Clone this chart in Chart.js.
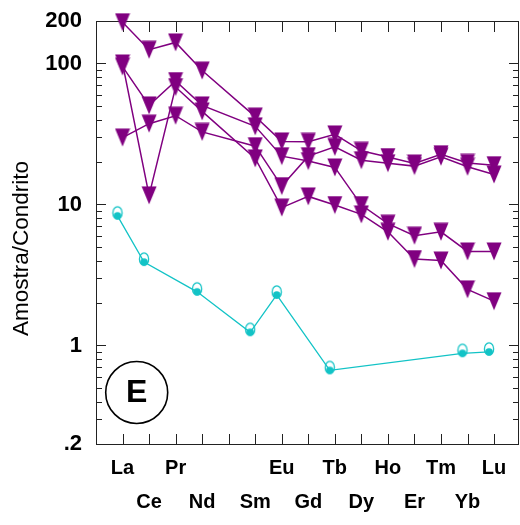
<!DOCTYPE html>
<html>
<head>
<meta charset="utf-8">
<script src="https://cdn.jsdelivr.net/npm/chart.js@4.4.1/dist/chart.umd.min.js"></script>
<style>
  html, body { margin: 0; padding: 0; background: #fff; }
</style>
</head>
<body>
<canvas id="reeChart" width="520" height="525"></canvas>
<script>
// REE elements in order (Pm has no data and no label)
const elements = ['La', 'Ce', 'Pr', 'Nd', 'Pm', 'Sm', 'Eu', 'Gd', 'Tb', 'Dy', 'Ho', 'Er', 'Tm', 'Yb', 'Lu'];
const hiddenElements = ['Pm'];

// chondrite-normalised values
const sampleA = [196, 125, 141, 89, null, 42, 28, 27.8, 31.4, 24, 21.7, 19.5, 22.7, 19.7, 19.0];
const sampleB = [100, 11.6, 68, 45.7, null, 21.2, 9.5, 11.4, 9.9, 8.5, 6.4, 4.1, 4.0, 2.5, 2.06];
const sampleC = [95, 50.4, 75, 50.4, null, 35.8, 22.0, 20.3, 18.3, 9.9, 7.3, 6.0, 6.4, 4.64, 4.64];
const sampleD = [29.8, 37.4, 42.6, 32.7, null, 25.9, 13.5, 22.0, 25.6, 20.6, 19.6, 18.7, 21.8, 18.5, 16.3];
const sampleCyan = [8.3, 3.9, null, 2.4, null, 1.24, 2.28, null, 0.665, null, null, null, null, 0.88, 0.90];

const yTickValues = [0.2, 1, 10, 100, 200];
const yTickLabels = ['.2', '1', '10', '100', '200'];

const purple = '#800080';
const cyan = '#12c3c6';
const cyanShift = -0.19; // cyan symbols sit a little left of the element tick

function triangleMarker(color) {
  const c = document.createElement('canvas');
  c.width = 16; c.height = 19;
  const g = c.getContext('2d');
  g.fillStyle = color;
  g.beginPath();
  g.moveTo(0.5, 0.5);
  g.lineTo(15.5, 0.5);
  g.lineTo(8, 18.5);
  g.closePath();
  g.fill();
  return c;
}

function halfRingMarker(color) {
  const c = document.createElement('canvas');
  c.width = 14; c.height = 22;
  const g = c.getContext('2d');
  g.strokeStyle = color;
  g.lineWidth = 1.3;
  g.beginPath();
  g.ellipse(7, 8, 4.6, 6.2, 0, 0, Math.PI * 2);
  g.stroke();
  g.fillStyle = color;
  g.beginPath();
  g.arc(7, 11, 3.8, 0, Math.PI * 2);
  g.fill();
  return c;
}

function toPoints(values, shift) {
  return values
    .map((v, i) => ({ x: i + 1 + shift, y: v }))
    .filter(p => p.y !== null);
}

const tri = triangleMarker(purple);
const ring = halfRingMarker(cyan);

function purpleSet(values) {
  return {
    data: toPoints(values, 0),
    borderColor: purple,
    borderWidth: 1.5,
    pointStyle: tri,
    pointRadius: 8,
    clip: false
  };
}

const font = '"Liberation Sans", Arial, Helvetica, sans-serif';

// inward ticks, frame, axis title and panel letter
const decorations = {
  id: 'decorations',
  beforeDatasetsDraw(chart) {
    const { ctx, chartArea: a, scales: { x, y } } = chart;
    ctx.save();
    ctx.strokeStyle = '#222';
    ctx.lineWidth = 1;
    ctx.strokeRect(Math.round(a.left) + 0.5, Math.round(a.top) + 0.5,
      Math.round(a.right - a.left) - 1, Math.round(a.bottom - a.top));

    ctx.beginPath();
    elements.forEach((e, i) => {
      const px = Math.round(x.getPixelForValue(i + 1)) + 0.5;
      ctx.moveTo(px, a.top); ctx.lineTo(px, a.top + 11);
      ctx.moveTo(px, a.bottom); ctx.lineTo(px, a.bottom - 10);
    });
    [0.1, 1, 10, 100].forEach(dec => {
      for (let m = 1; m <= 9; m++) {
        const v = dec * m;
        if (v <= 0.2 + 1e-9 || v >= 200 - 1e-9) continue;
        const len = m === 1 ? 10 : 6;
        const py = Math.round(y.getPixelForValue(v)) + 0.5;
        ctx.moveTo(a.left, py); ctx.lineTo(a.left + len, py);
        ctx.moveTo(a.right, py); ctx.lineTo(a.right - len, py);
      }
    });
    ctx.stroke();

    // y axis title
    ctx.fillStyle = '#000';
    ctx.font = '22.5px ' + font;
    ctx.textAlign = 'center';
    ctx.textBaseline = 'middle';
    ctx.translate(22, (a.top + a.bottom) / 2 + 16);
    ctx.rotate(-Math.PI / 2);
    ctx.fillText('Amostra/Condrito', 0, 0);
    ctx.restore();

    // panel letter
    ctx.save();
    const cx = a.left + 40.7, cy = a.bottom - 51.5;
    ctx.strokeStyle = '#000';
    ctx.lineWidth = 1.6;
    ctx.beginPath();
    ctx.arc(cx, cy, 31, 0, Math.PI * 2);
    ctx.stroke();
    ctx.fillStyle = '#000';
    ctx.font = 'bold 32px ' + font;
    ctx.textAlign = 'center';
    ctx.textBaseline = 'middle';
    ctx.fillText('E', cx, cy + 1);
    ctx.restore();
  }
};

new Chart(document.getElementById('reeChart'), {
  type: 'line',
  data: {
    datasets: [
      purpleSet(sampleA),
      purpleSet(sampleB),
      purpleSet(sampleC),
      purpleSet(sampleD),
      {
        data: toPoints(sampleCyan, cyanShift),
        borderColor: cyan,
        borderWidth: 1.3,
        pointStyle: ring,
        pointRadius: 7,
        clip: false
      }
    ]
  },
  options: {
    responsive: false,
    animation: false,
    layout: { autoPadding: false, padding: { top: 21, right: 1, left: 0, bottom: 0 } },
    plugins: {
      legend: { display: false },
      tooltip: { enabled: false }
    },
    scales: {
      x: {
        type: 'linear',
        min: 0,
        max: 15.94,
        grid: { display: false, drawTicks: false },
        border: { display: false },
        afterBuildTicks: s => { s.ticks = elements.map((e, i) => ({ value: i + 1 })); },
        afterFit: s => { s.height = 81; s.paddingLeft = 0; s.paddingRight = 0; },
        ticks: {
          autoSkip: false,
          maxRotation: 0,
          minRotation: 0,
          padding: 7,
          color: '#000',
          font: { family: font, size: 20, weight: 'bold', lineHeight: 1.725 },
          callback: v => {
            const i = Math.round(v) - 1;
            const name = hiddenElements.includes(elements[i]) ? '' : elements[i];
            return i % 2 === 0 ? [name, ''] : ['', name];
          }
        }
      },
      y: {
        type: 'logarithmic',
        min: 0.2,
        max: 200,
        grid: { display: false, drawTicks: false },
        border: { display: false },
        afterBuildTicks: s => { s.ticks = yTickValues.map(v => ({ value: v })); },
        afterFit: s => { s.width = 96; s.paddingTop = 0; s.paddingBottom = 0; },
        ticks: {
          padding: 14,
          color: '#000',
          font: { family: font, size: 22, weight: 'bold' },
          callback: v => {
            const i = yTickValues.findIndex(t => Math.abs(t - v) < 1e-6);
            return i >= 0 ? yTickLabels[i] : '';
          }
        }
      }
    }
  },
  plugins: [decorations]
});
</script>
</body>
</html>
